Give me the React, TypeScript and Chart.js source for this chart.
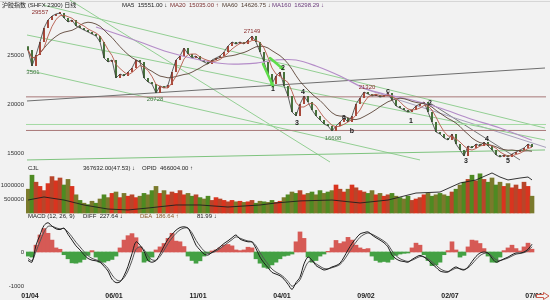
import React, { useEffect, useRef } from "react";
import { Chart, registerables } from "chart.js";

Chart.register(...registerables);

// ---------- data ----------
const tickIdx = [0, 21, 42, 63, 84, 105, 126];
const tickLabels = ["01/04", "06/01", "11/01", "04/01", "09/02", "02/07", "07/01"];

const openStart = 25900;
const closes = [
  25510, 23880, 25000, 26330, 27760, 28570, 28980, 29180, 29290, 28780,
  28370, 28570, 27960, 27760, 27550, 27350, 27140, 26940, 26330, 24690,
  24290, 24490, 22650, 23060, 22860, 23270, 23670, 24490, 24290, 22650,
  22240, 22040, 21120, 21840, 21630, 21940, 23270, 24490, 24900, 25710,
  25100, 24690, 24900, 24490, 24290, 24080, 24490, 24690, 24900, 25310,
  25920, 26330, 26120, 26330, 26120, 26530, 26940, 26330, 25310, 24290,
  23060, 22040, 22860, 23270, 21840, 20820, 19180, 18780, 20000, 20820,
  20200, 19390, 18780, 18370, 17960, 17760, 17240, 17760, 18160, 18570,
  18160, 18780, 20000, 20610, 21220, 21020, 20820, 20920, 20710, 20820,
  21120, 20410, 19800, 19590, 19390, 19180, 19390, 19800, 20000, 20200,
  19180, 18160, 17140, 16940, 16530, 16330, 16940, 15920, 15310, 14690,
  15710, 15510, 15920, 15710, 16120, 15710, 15310, 14800, 14590, 14800,
  14590, 14900, 15100, 15310, 15510, 15920, 15610,
];

const volumes = [
  850000, 1350000, 1100000, 950000, 800000, 1050000, 1300000, 1150000, 1250000, 1000000,
  1200000, 950000, 650000, 450000, 350000, 300000, 420000, 350000, 500000, 650000,
  550000, 700000, 750000, 550000, 700000, 600000, 650000, 550000, 600000, 700000,
  650000, 800000, 950000, 700000, 800000, 650000, 750000, 700000, 800000, 650000,
  700000, 600000, 650000, 550000, 500000, 600000, 450000, 550000, 500000, 450000,
  400000, 450000, 400000, 420000, 380000, 400000, 450000, 350000, 420000, 400000,
  380000, 450000, 380000, 420000, 550000, 650000, 750000, 700000, 800000, 650000,
  700000, 750000, 650000, 800000, 700000, 750000, 800000, 1000000, 850000, 750000,
  850000, 1000000, 900000, 800000, 750000, 700000, 800000, 650000, 700000, 600000,
  650000, 700000, 600000, 550000, 500000, 600000, 450000, 500000, 550000, 650000,
  700000, 600000, 650000, 700000, 650000, 600000, 750000, 850000, 1000000, 1100000,
  1200000, 1350000, 1150000, 1400000, 1200000, 1100000, 1250000, 1000000, 1100000, 950000,
  1050000, 900000, 1000000, 850000, 1100000, 950000, 600000,
];

const opidIdx = [0, 4, 9, 14, 20, 25, 30, 37, 43, 50, 58, 62, 68, 76, 83, 90, 97, 103, 108, 112, 116, 118, 120, 123, 125, 126];
const opidVals = [
  288000, 315000, 288000, 244000, 208000, 200000, 217000, 244000, 244000, 226000,
  244000, 262000, 280000, 288000, 262000, 288000, 350000, 359000, 439000, 466000,
  528000, 492000, 466000, 483000, 492000, 466004,
];

const diffVals = [
  -250, -300, 200, 500, 780, 860, 760, 680, 660, 700,
  520, 350, 180, 60, -80, -190, -240, -260, -300, -420,
  -560, -800, -900, -880, -700, -420, -50, 300, 200, 20,
  -250, -300, -250, -60, 170, 380, 520, 640, 720, 740,
  700, 470, 200, 60, -60, -90, -10, 60, 150, 250,
  330, 420, 500, 380, 330, 300, 290, 100, -150, -320,
  -460, -600, -650, -700, -800, -950, -1100, -900, -740, -350,
  -150, -240, -400, -470, -530, -500, -440, -400, -330, -150,
  60, 250, 400, 530, 570, 590, 500, 420, 350, 270,
  150, -90, -200, -260, -280, -300, -220, -150, -100, -150,
  -240, -350, -450, -560, -590, -590, -500, -440, -500, -530,
  -440, -280, -130, -30, 0, -30, -180, -300, -260, -200,
  -150, -80, -30, -30, 0, 80, 228,
];

const macdHist = [
  -120, -150, 200, 500, 690, 550, 350, 120, 80, -80,
  -200, -320, -330, -300, -220, -100, 40, -150, -300, -300,
  -260, -220, -120, 120, 350, 480, 540, 420, 150, -300,
  -260, -150, 60, 150, 250, 400, 550, 320, 300, 160,
  -120, -250, -330, -260, -120, -40, 30, 60, 120, 200,
  220, 180, 60, 40, 60, 140, 120, -200, -330, -450,
  -480, -380, -300, -200, -120, -100, -60, 300, 590, 400,
  -150, -300, -250, -120, -60, 20, 120, 340, 250, 300,
  430, 350, 200, 120, 80, 100, -120, -250, -300, -280,
  -300, -220, -100, -60, -40, -30, 120, 260, 200, -80,
  -250, -400, -380, -300, -80, 40, 300, 60, -150, -100,
  150, 350, 330, 250, 100, -120, -300, -300, -150, 40,
  120, 200, 100, 30, 150, 260, 82,
];

const ma160Idx = [17, 23, 28, 35, 43, 50, 57, 62, 67, 72, 78, 84, 89, 96, 103, 110, 118, 126];
const ma160Vals = [
  27860, 27040, 26330, 25310, 24490, 24080, 24180, 24490, 24490, 23880,
  22860, 21630, 21020, 20410, 19590, 18570, 17550, 16300,
];

// trend lines: [startIndex, startPrice, endIndex, endPrice]
const trendLines = [
  [-0.25, 20306, 129.25, 23673],
  [-0.5, 20728, 129.5, 20728],
  [-0.5, 17300, 129.5, 17300],
  [-0.5, 17910, 129.5, 17910],
  [-0.25, 14290, 129.25, 15310],
  [3.75, 30100, 129.25, 17550],
  [-0.25, 27040, 129.25, 16330],
  [-0.25, 23470, 98, 14290],
  [10.5, 30600, 75.5, 14080],
  [83.5, 21630, 129.5, 15570],
  [100.5, 20100, 123, 14290],
];
const trendColors = [
  "#6f6f6f", "#a87878", "#a87878", "#a3d9a3", "#7fc47f", "#93cf93",
  "#93cf93", "#93cf93", "#93cf93", "#a8a0bc", "#777777",
];

// price annotations: [text, index, price]
const priceNotes: [string, number, number][] = [
  ["29557", 3, 29390],
  ["3501", 1.25, 23270],
  ["20728", 31.75, 20510],
  ["27149", 56, 27450],
  ["1", 61.25, 21530],
  ["2", 63.75, 23670],
  ["3", 67.25, 18060],
  ["4", 68.75, 21220],
  ["16608", 76.25, 16530],
  ["a", 79, 18670],
  ["b", 81, 17240],
  ["21320", 84.75, 21735],
  ["c", 90, 21330],
  ["1", 95.75, 18265],
  ["2", 100.5, 20100],
  ["3", 109.5, 14180],
  ["4", 114.75, 16430],
  ["5", 120, 14180],
];
const noteColors = [
  "#8b2e2e", "#4a7a4a", "#4a7a4a", "#8b2e2e", "#222", "#222", "#222", "#222",
  "#4a7a4a", "#222", "#222", "#8b2e2e", "#222", "#222", "#222", "#222", "#222", "#222",
];

// green arrows: [fromIndex, fromPrice, toIndex, toPrice]
const arrowMarks = [
  [58.75, 24080, 61.25, 21830],
  [60.5, 24690, 63.75, 23570],
];

const priceTicks = [15000, 20000, 25000];
const volTicks = [500000, 1000000];
const macdTicks = [-1000, 0];

// ---------- derived ----------
const opens = closes.map((c, i) => (i === 0 ? openStart : closes[i - 1]));
const isUp = closes.map((c, i) => c >= opens[i]);
function trailingMean(arr: number[], n: number) {
  return arr.map((_, i) => {
    const w = arr.slice(Math.max(0, i - n + 1), i + 1);
    return w.reduce((a, b) => a + b, 0) / w.length;
  });
}
const ma20 = trailingMean(closes, 4);
const ma60 = trailingMean(closes, 12);
const deaVals: number[] = [];
diffVals.forEach((d, i) => {
  deaVals.push(i === 0 ? d - macdHist[0] / 2 : deaVals[i - 1] + 0.6 * (d - deaVals[i - 1]));
});

const FONT = '"Liberation Sans", "Noto Sans CJK SC", Arial, sans-serif';
const BG = "#f2f2f2";

const deco = {
  id: "deco",
  beforeDraw(chart: any) {
    const ctx = chart.ctx;
    ctx.save();
    ctx.fillStyle = BG;
    ctx.fillRect(0, 0, chart.width, chart.height);
    ctx.strokeStyle = "#d6d6d6";
    ctx.lineWidth = 1;
    ctx.beginPath();
    ctx.moveTo(0, 1.5);
    ctx.lineTo(chart.width, 1.5);
    ctx.stroke();
    ctx.restore();
  },
  afterDatasetsDraw(chart: any) {
    const ctx = chart.ctx;
    const xs = chart.scales.x;
    const ys = chart.scales.y;
    ctx.save();
    // green arrows
    ctx.strokeStyle = "#5fdc4a";
    ctx.fillStyle = "#5fdc4a";
    ctx.lineWidth = 2.5;
    ctx.lineCap = "round";
    arrowMarks.forEach((a) => {
      const x0 = xs.getPixelForValue(a[0]);
      const y0 = ys.getPixelForValue(a[1]);
      const x1 = xs.getPixelForValue(a[2]);
      const y1 = ys.getPixelForValue(a[3]);
      ctx.beginPath();
      ctx.moveTo(x0, y0);
      ctx.lineTo(x1, y1);
      ctx.stroke();
      const ang = Math.atan2(y1 - y0, x1 - x0);
      ctx.beginPath();
      ctx.moveTo(x1 + 2 * Math.cos(ang), y1 + 2 * Math.sin(ang));
      ctx.lineTo(x1 - 4 * Math.cos(ang - 0.6), y1 - 4 * Math.sin(ang - 0.6));
      ctx.lineTo(x1 - 4 * Math.cos(ang + 0.6), y1 - 4 * Math.sin(ang + 0.6));
      ctx.closePath();
      ctx.fill();
    });
    // price annotations
    ctx.textBaseline = "middle";
    ctx.textAlign = "center";
    priceNotes.forEach((n, k) => {
      const isWave = n[0].length === 1;
      ctx.font = isWave ? `bold 7px ${FONT}` : `6px ${FONT}`;
      ctx.fillStyle = noteColors[k];
      ctx.fillText(n[0], xs.getPixelForValue(n[1]), ys.getPixelForValue(n[2]));
    });
    ctx.restore();
  },
  afterDraw(chart: any) {
    const ctx = chart.ctx;
    const s = chart.scales;
    ctx.save();
    ctx.textBaseline = "middle";
    // axis tick labels, placed through the chart's own scales
    ctx.textAlign = "right";
    ctx.font = `6px ${FONT}`;
    ctx.fillStyle = "#333";
    priceTicks.forEach((v) => ctx.fillText(String(v), 24, s.y.getPixelForValue(v)));
    volTicks.forEach((v) => ctx.fillText(String(v), 24, s.yv.getPixelForValue(v)));
    macdTicks.forEach((v) => ctx.fillText(String(v), 24, s.ym.getPixelForValue(v)));
    ctx.textAlign = "center";
    ctx.font = `bold 7px ${FONT}`;
    ctx.fillStyle = "#222";
    tickIdx.forEach((v, k) => ctx.fillText(tickLabels[k], s.x.getPixelForValue(v) + 2, 296));
    // panel headers
    ctx.textAlign = "left";
    const put = (t: string, x: number, y: number, c: string) => {
      ctx.font = `6px ${FONT}`;
      ctx.fillStyle = c;
      ctx.fillText(t, x, y);
    };
    put("沪胶指数 (SHFX 2300) 日线", 2, 5, "#222");
    put("MA5  15551.00 ↓", 122, 5, "#222");
    put("MA20  15035.00 ↑", 170, 5, "#7a2e2e");
    put("MA60  14626.75 ↓", 222, 5, "#4e3a2e");
    put("MA160  16298.29 ↓", 272, 5, "#6a3a7a");
    put("CJL", 28, 168, "#222");
    put("367632.00(47.53) ↓", 83, 168, "#222");
    put("OPID  466004.00 ↑", 142, 168, "#222");
    put("MACD (12, 26, 9)", 28, 216, "#222");
    put("DIFF  227.64 ↓", 83, 216, "#222");
    put("DEA  186.64 ↑", 140, 216, "#8a5a2a");
    put("81.99 ↓", 197, 216, "#222");
    // scroll arrow at bottom right
    ctx.beginPath();
    ctx.moveTo(536.5, 294.5);
    ctx.lineTo(543.5, 294.5);
    ctx.lineTo(543.5, 292.5);
    ctx.lineTo(549, 296);
    ctx.lineTo(543.5, 299.5);
    ctx.lineTo(543.5, 297.5);
    ctx.lineTo(536.5, 297.5);
    ctx.closePath();
    ctx.fillStyle = BG;
    ctx.fill();
    ctx.strokeStyle = "#c8584a";
    ctx.lineWidth = 1;
    ctx.stroke();
    ctx.restore();
  },
};

const hiddenAxis = (min: number, max: number, pos: string) => ({
  type: "linear",
  position: pos,
  display: false,
  min,
  max,
});

const lineDs = (data: any[], axis: string, color: string, width: number, order: number, tension = 0) => ({
  type: "line",
  data,
  yAxisID: axis,
  borderColor: color,
  borderWidth: width,
  pointRadius: 0,
  tension,
  order,
});

export default function App() {
  const ref = useRef<HTMLCanvasElement>(null);
  useEffect(() => {
    const idx = closes.map((_, i) => i);
    const datasets: any[] = [];
    trendLines.forEach((t, k) => {
      datasets.push(lineDs([{ x: t[0], y: t[1] }, { x: t[2], y: t[3] }], "y", trendColors[k], 1, 8));
    });
    datasets.push({
      type: "bar",
      data: idx.map((i) => ({ x: i, y: [opens[i], closes[i]] })),
      yAxisID: "y",
      backgroundColor: isUp.map((u) => (u ? "#a8483a" : "#46703a")),
      grouped: false,
      barPercentage: 0.5,
      categoryPercentage: 1,
      minBarLength: 2,
      order: 5,
    });
    datasets.push(lineDs(idx.map((i) => ({ x: i, y: closes[i] })), "y", "#3a3a3a", 0.8, 4));
    datasets.push(lineDs(idx.map((i) => ({ x: i, y: ma20[i] })), "y", "#b4594a", 0.9, 3));
    datasets.push(lineDs(idx.map((i) => ({ x: i, y: ma60[i] })), "y", "#5c4538", 0.9, 3));
    datasets.push(lineDs(ma160Idx.map((v, k) => ({ x: v, y: ma160Vals[k] })), "y", "#b48cc8", 1.2, 3, 0.35));
    datasets.push({
      type: "bar",
      data: idx.map((i) => ({ x: i, y: volumes[i] })),
      yAxisID: "yv",
      backgroundColor: isUp.map((u, i) => (u ? (i % 2 ? "#d9341f" : "#b8452a") : i % 2 ? "#4e8a22" : "#7a7a2c")),
      grouped: false,
      barPercentage: 1,
      categoryPercentage: 1,
      order: 5,
    });
    datasets.push(lineDs(opidIdx.map((v, k) => ({ x: v, y: opidVals[k] })), "yo", "#1e1e1e", 0.9, 1));
    datasets.push({
      type: "bar",
      data: idx.map((i) => ({ x: i, y: macdHist[i] })),
      yAxisID: "ym",
      backgroundColor: macdHist.map((h) => (h >= 0 ? "#d65a55" : "#43a043")),
      grouped: false,
      barPercentage: 1,
      categoryPercentage: 1,
      order: 5,
    });
    datasets.push(lineDs(idx.map((i) => ({ x: i, y: diffVals[i] })), "ym", "#1e1e1e", 1, 1, 0.3));
    datasets.push(lineDs(idx.map((i) => ({ x: i, y: deaVals[i] })), "ym", "#555", 1, 1, 0.3));

    const chart = new Chart(ref.current as HTMLCanvasElement, {
      type: "bar",
      data: { datasets },
      options: {
        animation: false,
        responsive: false,
        maintainAspectRatio: false,
        events: [],
        layout: { autoPadding: false, padding: { left: 26, right: 4, top: 0, bottom: 10 } },
        plugins: { legend: { display: false }, tooltip: { enabled: false } },
        scales: {
          x: { ...hiddenAxis(-0.5, 129.5, "bottom"), offset: false },
          y: hiddenAxis(1020, 30612, "left"),
          yv: hiddenAxis(-2750000, 7607143, "left"),
          ym: hiddenAxis(-1118, 7412, "left"),
          yo: hiddenAxis(-510000, 2062000, "left"),
        } as any,
      },
      plugins: [deco],
    } as any);
    return () => chart.destroy();
  }, []);
  return (
    <div style={{ position: "fixed", left: 0, top: 0, width: 550, height: 300, background: BG }}>
      <canvas ref={ref} width={550} height={300} style={{ display: "block", width: 550, height: 300 }} />
    </div>
  );
}
